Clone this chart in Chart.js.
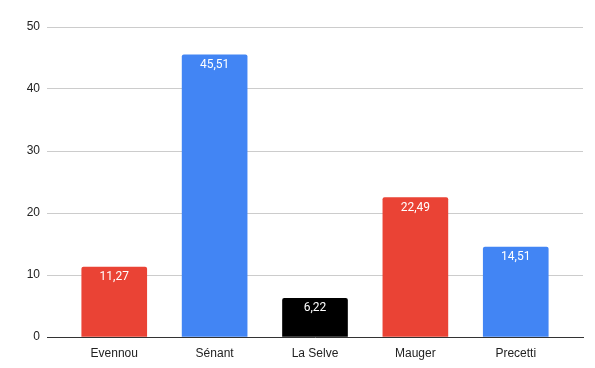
<!DOCTYPE html>
<html>
<head>
<meta charset="utf-8">
<script src="https://cdn.jsdelivr.net/npm/chart.js@4"></script>
<style>
  html, body { margin: 0; padding: 0; background: #fff; }
  #wrap { width: 595px; height: 368px; }
</style>
</head>
<body>
<div id="wrap"><canvas id="myBarChart"></canvas></div>
<script>
// data
var labels = ['Evennou', 'Sénant', 'La Selve', 'Mauger', 'Precetti'];
var values = [11.27, 45.51, 6.22, 22.49, 14.51];
var barColors = ['#EA4335', '#4285F4', '#000000', '#EA4335', '#4285F4'];
var yTicks = [0, 10, 20, 30, 40, 50];

Chart.defaults.font.family = 'Arial, "Liberation Sans", sans-serif';
Chart.defaults.font.size = 12;
Chart.defaults.color = '#222';

// white value labels inside the top of each bar
var valueLabels = {
    id: 'valueLabels',
    afterDatasetsDraw: function (chart) {
        var ctx = chart.ctx;
        var meta = chart.getDatasetMeta(0);
        ctx.save();
        ctx.fillStyle = '#fff';
        ctx.font = '12px Roboto, Arial, sans-serif';
        ctx.textAlign = 'center';
        ctx.textBaseline = 'middle';
        meta.data.forEach(function (bar, i) {
            ctx.fillText(values[i].toFixed(2).replace('.', ','), bar.x, bar.y + 10);
        });
        ctx.restore();
    }
};

var points = values.map(function (v, i) { return { x: i, y: v }; });

new Chart(document.getElementById('myBarChart'), {
    type: 'bar',
    data: {
        datasets: [{
            data: points,
            backgroundColor: barColors,
            borderRadius: 2,
            borderSkipped: 'bottom',
            barThickness: 65
        }]
    },
    options: {
        responsive: true,
        maintainAspectRatio: false,
        animation: false,
        layout: { padding: { top: 27, right: 12, left: 0, bottom: 0 } },
        plugins: {
            legend: { display: false },
            tooltip: { enabled: false }
        },
        scales: {
            x: {
                type: 'linear',
                offset: false,
                min: -0.67,
                max: 4.67,
                grid: { display: false, drawTicks: false },
                border: { display: true, color: '#333', width: 1 },
                afterBuildTicks: function (axis) {
                    axis.ticks = labels.map(function (l, i) { return { value: i }; });
                },
                afterFit: function (axis) { axis.height = 31; },
                ticks: {
                    padding: 9,
                    maxRotation: 0,
                    autoSkip: false,
                    callback: function (v) { return labels[v]; }
                }
            },
            y: {
                min: 0,
                max: 50,
                afterBuildTicks: function (axis) {
                    axis.ticks = yTicks.map(function (t) { return { value: t }; });
                },
                afterFit: function (axis) { axis.width = 47; },
                grid: { color: '#cccccc', drawTicks: false },
                border: { display: false },
                ticks: { padding: 7 }
            }
        }
    },
    plugins: [valueLabels]
});
</script>
</body>
</html>
